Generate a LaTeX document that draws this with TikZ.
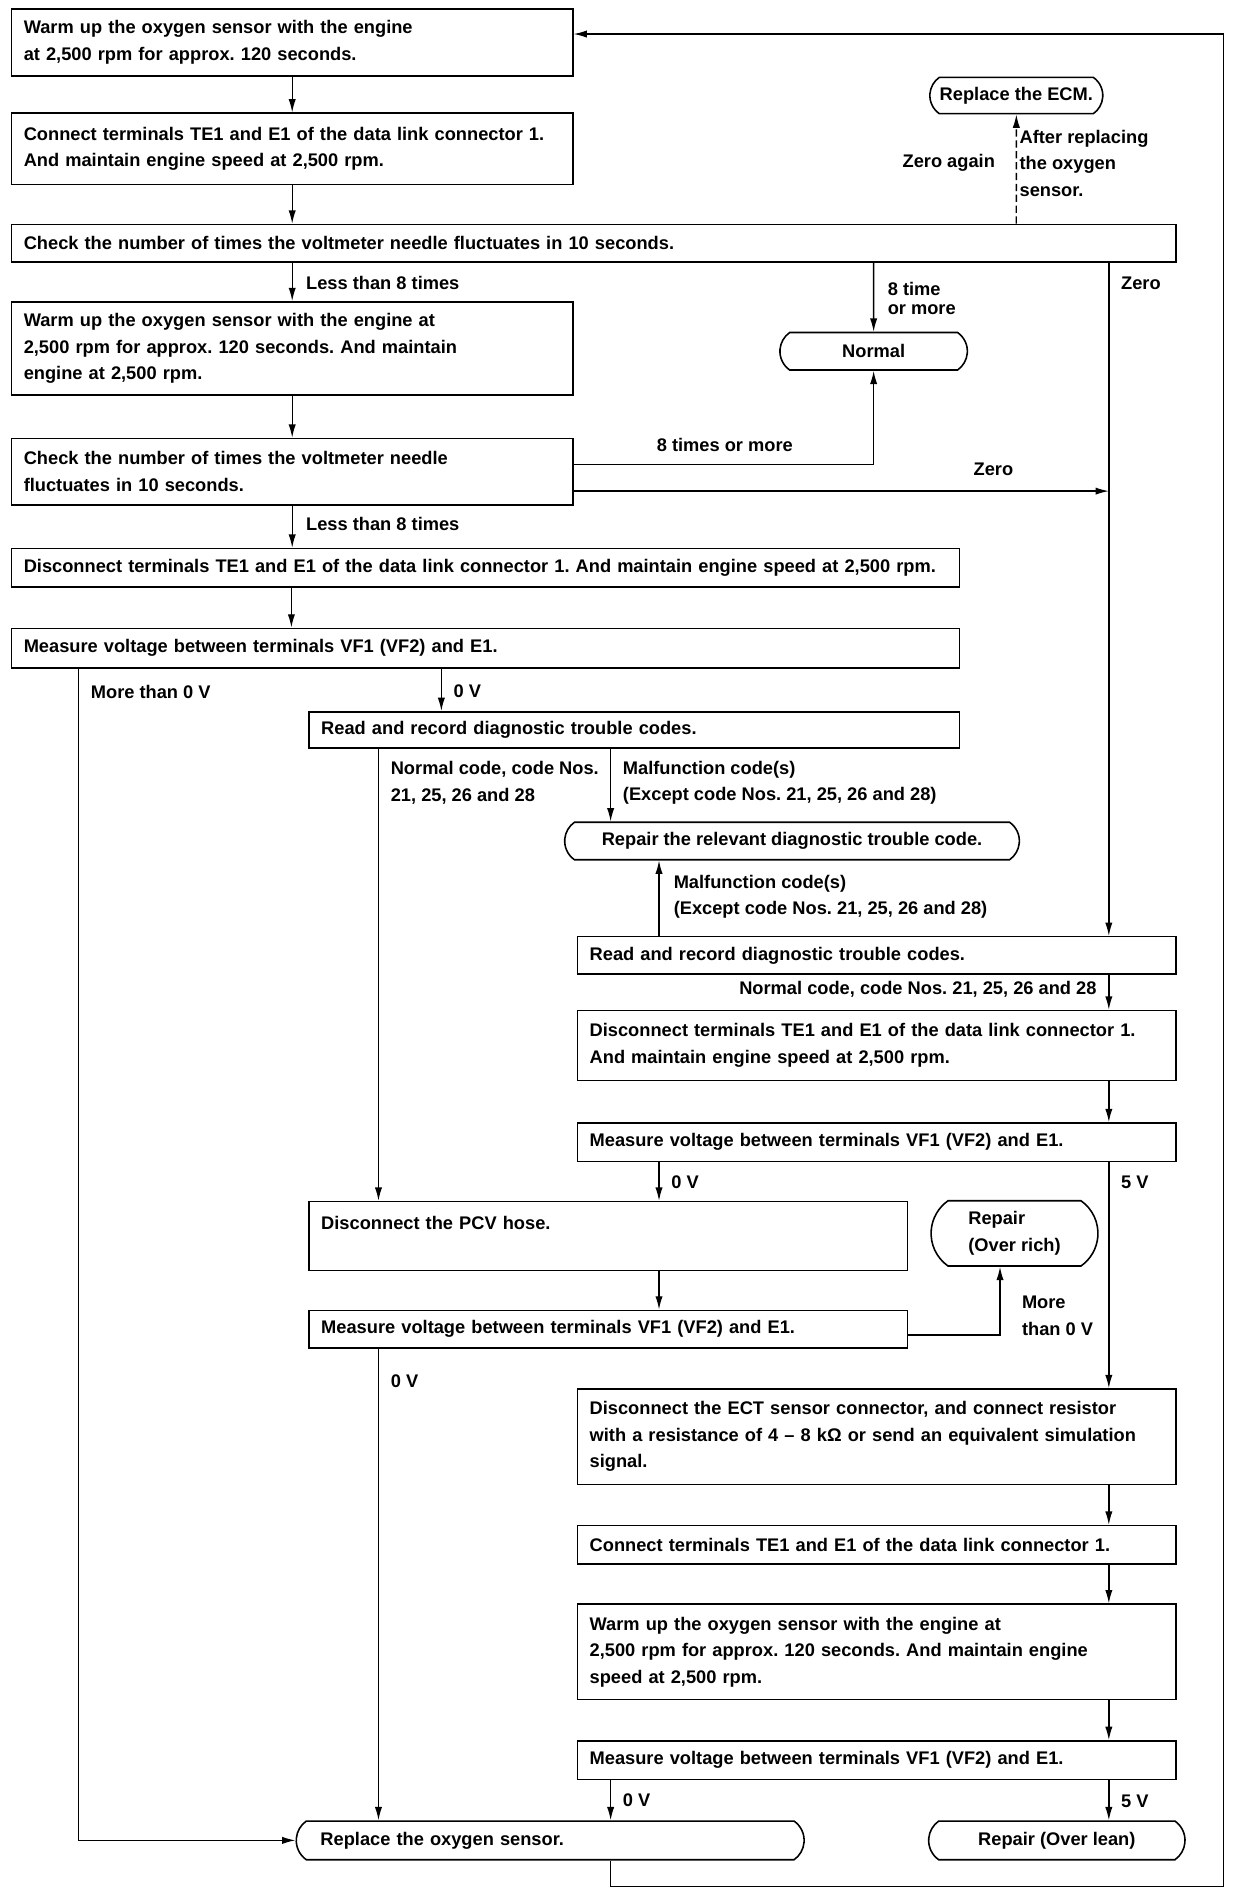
\documentclass[tikz,border=0pt]{standalone}
\usepackage{fontspec}
\setmainfont{Liberation Sans}
\usetikzlibrary{arrows.meta,shapes.misc}
\newcommand{\flowfont}{\fontsize{15.1}{22}\selectfont\bfseries\frenchspacing}
\tikzset{
  box/.style={draw, line width=1.3pt, rectangle, anchor=north west, inner xsep=10pt, inner ysep=0pt, align=left, font=\flowfont},
  term/.style={draw, line width=1.3pt, rounded rectangle, rounded rectangle arc length=110, inner xsep=2pt, inner ysep=0pt, font=\flowfont},
  lbl/.style={inner sep=0pt, anchor=west, align=left, font=\flowfont},
  arr/.style={line width=1.1pt, -{Latex[length=11pt,width=6pt]}},
}
\begin{document}
\begin{tikzpicture}[x=1pt,y=-1pt]
  \useasboundingbox (0,0) rectangle (1032,1568);
  \coordinate (colL) at (65,0);
  \coordinate (colA) at (241,0);
  \coordinate (colC) at (313,0);
  \coordinate (colB) at (365,0);
  \coordinate (colD) at (505,0);
  \coordinate (colE) at (545,0);
  \coordinate (colF) at (827,0);
  \coordinate (colR) at (917,0);
  \coordinate (fbR) at (1012,1560);

  \node[box, text width=444pt, minimum height=55pt] (warm1) at (9,7) {Warm up the oxygen sensor with the engine\\at 2,500 rpm for approx. 120 seconds.};
  \node[box, text width=444pt, minimum height=59pt] (conn1) at (9,93) {Connect terminals TE1 and E1 of the data link connector 1.\\And maintain engine speed at 2,500 rpm.};
  \node[box, text width=943pt, minimum height=31pt] (check1) at (9,185) {Check the number of times the voltmeter needle fluctuates in 10 seconds.};
  \node[box, text width=444pt, minimum height=77pt] (warm2) at (9,249) {Warm up the oxygen sensor with the engine at\\2,500 rpm for approx. 120 seconds. And maintain\\engine at 2,500 rpm.};
  \node[box, text width=444pt, minimum height=55pt] (check2) at (9,362) {Check the number of times the voltmeter needle\\fluctuates in 10 seconds.};
  \node[box, text width=764pt, minimum height=32pt] (disc1) at (9,453) {Disconnect terminals TE1 and E1 of the data link connector 1. And maintain engine speed at 2,500 rpm.};
  \node[box, text width=764pt, minimum height=33pt] (meas1) at (9,519) {Measure voltage between terminals VF1 (VF2) and E1.};
  \node[box, text width=518pt, minimum height=30pt] (read1) at (255,588) {Read and record diagnostic trouble codes.};
  \node[box, text width=475pt, minimum height=31pt] (read2) at (477,774) {Read and record diagnostic trouble codes.};
  \node[box, text width=475pt, minimum height=58pt] (disc2) at (477,835) {Disconnect terminals TE1 and E1 of the data link connector 1.\\And maintain engine speed at 2,500 rpm.};
  \node[box, text width=475pt, minimum height=32pt] (meas2) at (477,928) {Measure voltage between terminals VF1 (VF2) and E1.};
  \node[box, text width=475pt, minimum height=57pt] (pcv) at (255,993) {Disconnect the PCV hose.\\~};
  \node[box, text width=475pt, minimum height=31pt] (meas3) at (255,1083) {Measure voltage between terminals VF1 (VF2) and E1.};
  \node[box, text width=475pt, minimum height=79pt] (ect) at (477,1148) {Disconnect the ECT sensor connector, and connect resistor\\with a resistance of 4 – 8 kΩ or send an equivalent simulation\\signal.};
  \node[box, text width=475pt, minimum height=32pt] (conn2) at (477,1261) {Connect terminals TE1 and E1 of the data link connector 1.};
  \node[box, text width=475pt, minimum height=79pt] (warm3) at (477,1326) {Warm up the oxygen sensor with the engine at\\2,500 rpm for approx. 120 seconds. And maintain engine\\speed at 2,500 rpm.};
  \node[box, text width=475pt, minimum height=32pt] (meas4) at (477,1439) {Measure voltage between terminals VF1 (VF2) and E1.};

  \node[term, minimum width=147pt, minimum height=30pt] (ecm) at (840.5,79) {Replace the ECM.};
  \node[term, minimum width=159pt, minimum height=31pt] (normal) at (722.5,290.5) {Normal};
  \node[term, minimum width=380pt, minimum height=31pt] (repdtc) at (655,695.5) {Repair the relevant diagnostic trouble code.};
  \node[term, minimum width=142pt, minimum height=54pt, align=left] (overrich) at (839,1020) {Repair\\(Over rich)};
  \node[term, minimum width=420pt, minimum height=32pt, text width=380pt, align=left, inner xsep=0pt] (replO2) at (455,1522) {Replace the oxygen sensor.};
  \node[term, minimum width=216pt, minimum height=32pt] (overlean) at (874,1522) {Repair (Over lean)};

  \node[lbl] (lless1) at (253,234) {Less than 8 times};
  \node[lbl] (lzero1) at (927,234) {Zero};
  \node[lbl, font=\fontsize{15.1}{16}\selectfont\bfseries] (l8time) at (734,247) {8 time\\or more};
  \node[lbl, anchor=east] (lagain) at (823,135) {Zero again};
  \node[lbl] (lafter) at (843,135) {After replacing\\the oxygen\\sensor.};
  \node[lbl] (l8more) at (543,368) {8 times or more};
  \node[lbl] (lzero2) at (805,388) {Zero};
  \node[lbl] (lless2) at (253,433) {Less than 8 times};
  \node[lbl] (lmore1) at (75,572) {More than 0 V};
  \node[lbl] (lzv1) at (375,572) {0 V};
  \node[lbl] (lnorm1) at (323,647.5) {Normal code, code Nos.\\21, 25, 26 and 28};
  \node[lbl] (lmalf1) at (515,647.5) {Malfunction code(s)\\(Except code Nos. 21, 25, 26 and 28)};
  \node[lbl] (lmalf2) at (557,741.5) {Malfunction code(s)\\(Except code Nos. 21, 25, 26 and 28)};
  \node[lbl, anchor=east] (lnorm2) at (907,818) {Normal code, code Nos. 21, 25, 26 and 28};
  \node[lbl] (lzv2) at (555,978) {0 V};
  \node[lbl] (lfv1) at (927,978) {5 V};
  \node[lbl] (lmore2) at (845,1088) {More\\than 0 V};
  \node[lbl] (lzv3) at (323,1142) {0 V};
  \node[lbl] (lzv4) at (515,1489) {0 V};
  \node[lbl] (lfv2) at (927,1490) {5 V};

  \coordinate (c2up) at ([yshift=6pt]check2.east);
  \coordinate (c2dn) at ([yshift=-16pt]check2.east);
  \coordinate (m3out) at ([yshift=-5pt]meas3.east);
  \coordinate (w1in) at ([yshift=7pt]warm1.east);

  \draw[arr] (warm1) -- (conn1);
  \draw[arr] (conn1) -- (conn1 |- check1.north);
  \draw[arr] (warm2 |- check1.south) -- (warm2);
  \draw[arr] (warm2) -- (check2);
  \draw[arr] (check2) -- (check2 |- disc1.north);
  \draw[arr] (colA |- disc1.south) -- (colA |- meas1.north);
  \draw[arr] (colB |- meas1.south) -- (colB |- read1.north);
  \draw[arr] (colL |- meas1.south) |- (replO2);
  \draw[arr] (colC |- read1.south) -- (colC |- pcv.north);
  \draw[arr] (colD |- read1.south) -- (colD |- repdtc.north);
  \draw[arr] (colE |- read2.north) -- (colE |- repdtc.south);
  \draw[arr] (colR |- check1.south) -- (colR |- read2.north);
  \draw[arr] (normal |- check1.south) -- (normal);
  \draw[arr] (c2up) -| (normal);
  \draw[arr] (c2dn) -- (c2dn -| colR);
  \draw[arr, dash pattern=on 6pt off 3pt] (ecm |- check1.north) -- (ecm);
  \draw[arr] (colR |- read2.south) -- (colR |- disc2.north);
  \draw[arr] (colR |- disc2.south) -- (colR |- meas2.north);
  \draw[arr] (colE |- meas2.south) -- (colE |- pcv.north);
  \draw[arr] (colR |- meas2.south) -- (colR |- ect.north);
  \draw[arr] (colE |- pcv.south) -- (colE |- meas3.north);
  \draw[arr] (m3out) -| (colF |- overrich.south);
  \draw[arr] (colC |- meas3.south) -- (colC |- replO2.north);
  \draw[arr] (colR |- ect.south) -- (colR |- conn2.north);
  \draw[arr] (colR |- conn2.south) -- (colR |- warm3.north);
  \draw[arr] (colR |- warm3.south) -- (colR |- meas4.north);
  \draw[arr] (colD |- meas4.south) -- (colD |- replO2.north);
  \draw[arr] (colR |- meas4.south) -- (colR |- overlean.north);
  \draw[arr] (colD |- replO2.south) |- (fbR) |- (w1in);
\end{tikzpicture}
\end{document}
